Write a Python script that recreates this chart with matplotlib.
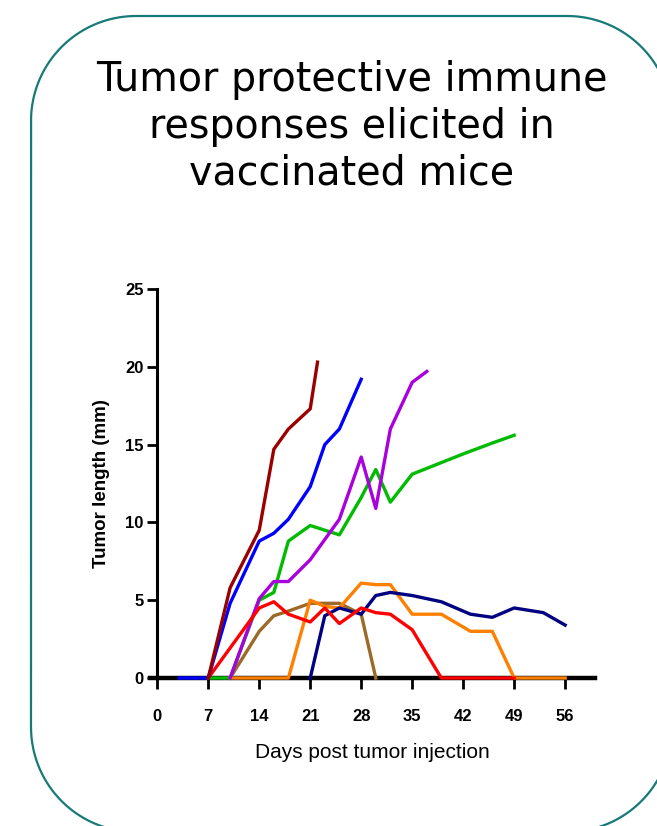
import numpy as np
import matplotlib
matplotlib.use('Agg')
from matplotlib import pyplot as plt
from matplotlib.path import Path
from matplotlib.patches import PathPatch

# tumor length (mm) per mouse
days_dark_red = [7, 10, 14, 16, 18, 21, 22]
mm_dark_red = [0, 5.8, 9.5, 14.7, 16.0, 17.3, 20.3]

days_blue = [3, 7, 10, 14, 16, 18, 21, 23, 25, 28]
mm_blue = [0, 0, 4.8, 8.8, 9.3, 10.2, 12.3, 15.0, 16.0, 19.2]

days_purple = [10, 14, 16, 18, 21, 25, 28, 30, 32, 35, 37]
mm_purple = [0, 5.1, 6.2, 6.2, 7.6, 10.2, 14.2, 10.9, 16.0, 19.0, 19.7]

days_green = [7, 10, 14, 16, 18, 21, 25, 28, 30, 32, 35, 42, 46, 49]
mm_green = [0, 0, 5.0, 5.5, 8.8, 9.8, 9.2, 11.6, 13.4, 11.3, 13.1, 14.4, 15.1, 15.6]

days_brown = [10, 14, 16, 18, 21, 23, 25, 28, 30]
mm_brown = [0, 3.0, 4.0, 4.3, 4.8, 4.8, 4.8, 4.1, 0]

days_orange = [10, 18, 21, 23, 25, 28, 30, 32, 35, 39, 43, 46, 49, 56]
mm_orange = [0, 0, 5.0, 4.6, 4.5, 6.1, 6.0, 6.0, 4.1, 4.1, 3.0, 3.0, 0, 0]

days_navy = [21, 23, 25, 28, 30, 32, 35, 39, 43, 46, 49, 53, 56]
mm_navy = [0, 4.0, 4.5, 4.1, 5.3, 5.5, 5.3, 4.9, 4.1, 3.9, 4.5, 4.2, 3.4]

days_red = [7, 14, 16, 18, 21, 23, 25, 28, 30, 32, 35, 39, 42, 46, 49]
mm_red = [0, 4.5, 4.9, 4.1, 3.6, 4.5, 3.5, 4.5, 4.2, 4.1, 3.1, 0, 0, 0, 0]

x_ticks = [0, 7, 14, 21, 28, 35, 42, 49, 56]
y_ticks = [0, 5, 10, 15, 20, 25]

W, H = 657, 826
fig = plt.figure(figsize=(W / 100, H / 100), dpi=100)


def rounded_frame(x0, y0, x1, y1, r):
    # closed rounded rectangle, pixel units, y down
    pts = []
    corners = [(x1 - r, y0 + r, -90, 0), (x1 - r, y1 - r, 0, 90),
               (x0 + r, y1 - r, 90, 180), (x0 + r, y0 + r, 180, 270)]
    for cx, cy, a0, a1 in corners:
        t = np.radians(np.linspace(a0, a1, 40))
        pts += list(zip(cx + r * np.cos(t), cy + r * np.sin(t)))
    pts.append(pts[0])
    return Path(pts)


# overlay axes in pixel units for the frame
bg = fig.add_axes([0, 0, 1, 1])
bg.set_xlim(0, W)
bg.set_ylim(H, 0)
bg.axis('off')
bg.add_patch(PathPatch(rounded_frame(31, 16, 672, 832, 105), facecolor='none',
                       edgecolor='#167a78', linewidth=1.6))

fig.text(352 / W, 1 - 127 / H, 'Tumor protective immune\nresponses elicited in\nvaccinated mice',
         ha='center', va='center', fontsize=28.5, family='DejaVu Sans', linespacing=1.22)

ax = fig.add_axes([150 / W, 1 - 678 / H, (595 - 150) / W, (678 - 289) / H])

series = [
    (days_brown, mm_brown, '#9c6a28'),
    (days_orange, mm_orange, '#ff8000'),
    (days_navy, mm_navy, '#000080'),
    (days_green, mm_green, '#00bb00'),
    (days_purple, mm_purple, '#aa00dd'),
    (days_red, mm_red, '#ff0000'),
    (days_blue, mm_blue, '#0000ff'),
    (days_dark_red, mm_dark_red, '#9b0000'),
]
for d, v, c in series:
    ax.plot(d, v, color=c, linewidth=2.4, clip_on=False, zorder=3)

ax.set_xlim(-1, 60.1)
ax.set_ylim(0, 25)
ax.spines['top'].set_visible(False)
ax.spines['right'].set_visible(False)
ax.spines['left'].set_position(('data', 0))
ax.spines['left'].set_linewidth(2.2)
ax.spines['bottom'].set_linewidth(3.2)
ax.spines['bottom'].set_zorder(2)

ax.set_xticks(x_ticks)
ax.set_yticks(y_ticks)
tick_font = {'family': 'Liberation Sans', 'weight': 'bold', 'size': 12}
ax.set_xticklabels([str(t) for t in x_ticks], fontdict=tick_font)
ax.set_yticklabels([str(t) for t in y_ticks], fontdict=tick_font)
ax.tick_params(axis='x', direction='out', length=8, width=2, pad=14)
ax.tick_params(axis='y', direction='out', length=7, width=2, pad=3)

ax.set_xlabel('Days post tumor injection', family='Liberation Sans', fontsize=15, labelpad=14)
ax.set_ylabel('Tumor length (mm)', family='Liberation Sans', fontweight='bold', fontsize=13.5)
ax.yaxis.set_label_coords((110 - 150) / 445, 0.5)

plt.savefig('out.png', dpi=100)
